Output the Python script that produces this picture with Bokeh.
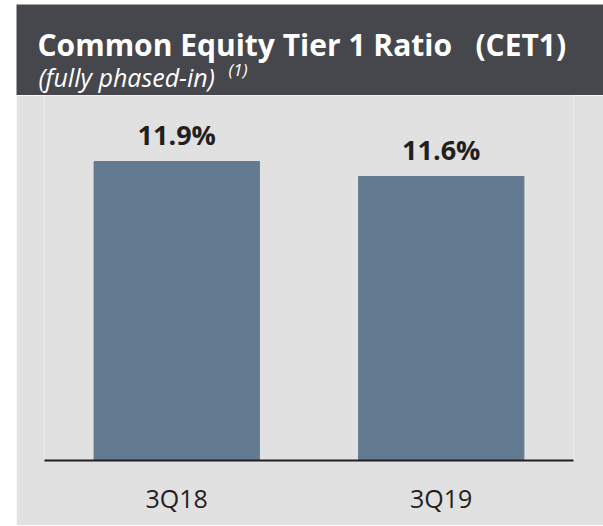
from bokeh.plotting import figure
from bokeh.models import Range1d, FactorRange, ColumnDataSource, LabelSet, Label
from bokeh.core.properties import value
from bokeh.embed import file_html
from bokeh.resources import INLINE

# ---- data ----
categories = ["3Q18", "3Q19"]
values = [11.9, 11.6]
value_labels = ["11.9%", "11.6%"]
title_text = "Common Equity Tier 1 Ratio\u00a0\u00a0\u00a0(CET1)"
subtitle_text = "(fully phased-in)"
note_text = "(1)"
y_min = 5.92
y_max = 13.22

# ---- style ----
HEADER_BG = "#46474c"
BODY_BG = "#e1e1e1"
BAR = "#627b91"
INK = "#231f20"
FONT = "Open Sans"
W = 587
HH = 91
BL, BR = 28, 30

header = figure(width=W, height=HH, x_range=Range1d(0, W), y_range=Range1d(HH, 0),
                toolbar_location=None, output_backend="svg", min_border=0,
                x_axis_location=None, y_axis_location=None,
                background_fill_color=HEADER_BG, border_fill_color=HEADER_BG,
                outline_line_color=None, margin=(4, 0, 0, 16))
header.grid.visible = False
header.add_layout(Label(x=21, y=40, text=title_text, text_font=FONT, text_font_size="30px",
                        text_font_style="bold", text_color="white", text_baseline="alphabetic"))
header.add_layout(Label(x=22, y=72, text=subtitle_text, text_font=FONT, text_font_size="25px",
                        text_font_style="italic", text_color="white", text_baseline="alphabetic"))
header.add_layout(Label(x=212, y=65, text=note_text, text_font=FONT, text_font_size="17px",
                        text_font_style="italic", text_color="white", text_baseline="alphabetic"))

p = figure(width=W, height=430, x_range=FactorRange(factors=categories, range_padding=0),
           y_range=Range1d(y_min, y_max), toolbar_location=None, output_backend="svg",
           min_border_left=BL, min_border_right=BR, min_border_top=0, min_border_bottom=65,
           y_axis_location=None, background_fill_color=BODY_BG, border_fill_color=BODY_BG,
           outline_line_color=None, margin=(0, 0, 0, 16))
src = ColumnDataSource(dict(cat=categories, val=values, lab=value_labels))
p.vbar(x="cat", top="val", bottom=y_min, width=0.625, color=BAR, source=src)
p.add_layout(LabelSet(x="cat", y="val", text="lab", source=src, y_offset=17,
                      text_align="center", text_baseline="alphabetic",
                      text_font=value(FONT), text_font_size="27px", text_font_style="bold",
                      text_color=INK))
p.grid.visible = False
ax = p.xaxis[0]
ax.axis_line_width = 2
ax.axis_line_color = INK
ax.major_tick_line_color = None
ax.minor_tick_line_color = None
ax.major_label_text_font = FONT
ax.major_label_text_font_size = "25px"
ax.major_label_text_color = INK
ax.major_label_standoff = 14

open("out.html", "w").write(file_html([header, p], INLINE))
